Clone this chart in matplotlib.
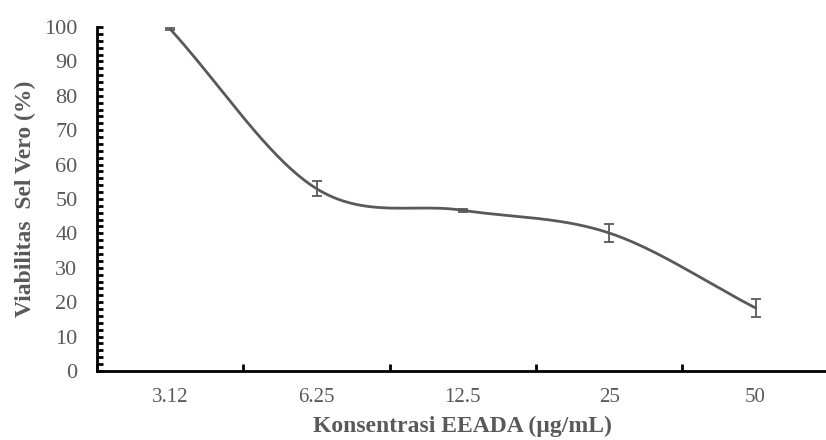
import numpy as np
import matplotlib
matplotlib.use("Agg")
import matplotlib.pyplot as plt
from matplotlib.ticker import MultipleLocator

categories = ["3.12", "6.25", "12.5", "25", "50"]
viability = [99.4, 53.0, 46.7, 40.1, 18.3]
errors = [0.3, 2.1, 0.4, 2.7, 2.6]

GREY = "#595959"
plt.rcParams['font.family'] = ['Liberation Serif', 'DejaVu Serif']

fig = plt.figure(figsize=(8.26, 4.4), dpi=100)
ax = fig.add_axes([0.1174, 0.157, 0.886, 0.7816])

x = np.arange(len(categories), dtype=float)
y = np.array(viability, dtype=float)

# Catmull-Rom smoothing (like spreadsheet smoothed lines)
xs_all, ys_all = [], []
n = len(x)
for i in range(n - 1):
    p0 = y[i - 1] if i > 0 else y[i]
    p1, p2 = y[i], y[i + 1]
    p3 = y[i + 2] if i + 2 < n else y[i + 1]
    m1 = (p2 - p0) / (2 if i > 0 else 1)
    m2 = (p3 - p1) / (2 if i + 2 < n else 1)
    t = np.linspace(0, 1, 60)
    h00 = 2*t**3 - 3*t**2 + 1
    h10 = t**3 - 2*t**2 + t
    h01 = -2*t**3 + 3*t**2
    h11 = t**3 - t**2
    xs_all.append(x[i] + t)
    ys_all.append(h00*p1 + h10*m1 + h01*p2 + h11*m2)
xs = np.concatenate(xs_all)
ys = np.concatenate(ys_all)

ax.plot(xs, ys, color=GREY, lw=2.0, solid_capstyle='round', zorder=3)
ax.errorbar(x, y, yerr=errors, fmt='none', ecolor=GREY, elinewidth=1.3,
            capsize=3.6, capthick=1.3, zorder=4)

ax.set_xlim(-0.5, n - 0.5)
ax.set_ylim(0, 100)
ax.set_xticks(x)
ax.set_xticklabels(categories)
ax.xaxis.set_minor_locator(MultipleLocator(1, offset=0.5))
ax.yaxis.set_major_locator(MultipleLocator(10))
ax.yaxis.set_minor_locator(MultipleLocator(2))

for s in ['top', 'right']:
    ax.spines[s].set_visible(False)
for s in ['left', 'bottom']:
    ax.spines[s].set_linewidth(2.0)
    ax.spines[s].set_color('black')

ax.tick_params(axis='x', which='major', length=0, pad=12, labelsize=15, labelcolor=GREY)
ax.tick_params(axis='x', which='minor', direction='in', length=5, width=2, color='black')
ax.tick_params(axis='y', which='both', direction='in', length=4, width=2, color='black')
ax.tick_params(axis='y', which='major', pad=14, labelsize=16, labelcolor=GREY)

ax.set_xlabel("Konsentrasi EEADA (µg/mL)", fontsize=17, fontweight='bold', color=GREY, labelpad=7)
ax.set_ylabel("Viabilitas  Sel Vero (%)", fontsize=17, fontweight='bold', color=GREY, labelpad=6)

fig.savefig("out.png", dpi=100)
